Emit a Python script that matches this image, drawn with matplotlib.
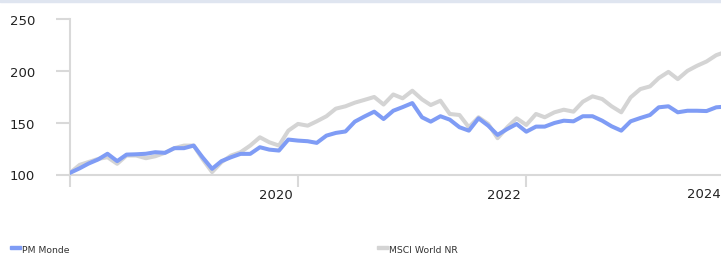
import numpy as np
import pandas as pd
import matplotlib
matplotlib.use("Agg")
import matplotlib.pyplot as plt
import matplotlib.dates as mdates
from matplotlib.transforms import ScaledTranslation
from matplotlib.patches import Rectangle

# Données (base 100, mensuel à partir de janvier 2018)
mois = pd.date_range("2018-01-01", periods=70, freq="MS")

pm_monde = [101.6, 106, 110.5, 114.5, 120, 112.9, 119.2, 119.5, 120, 121.5,
            120.9, 125.4, 125.4, 127.9, 116.7, 105.5, 112.9, 116.7, 119.9, 119.9,
            126.3, 124, 123.1, 133.7, 132.7, 132.1, 130.5, 137.5, 140.1, 141.5,
            151, 156, 160.6, 153.5, 161.5, 165, 168.9, 155.2, 151, 156.2,
            152.9, 145.6, 142.3, 154.2, 147.1, 138.2, 143.9, 148.7, 141.3, 146.2,
            146.2, 149.7, 151.9, 151.3, 156.2, 156.2, 151.9, 146.5, 142.3, 151.3,
            154.5, 157.4, 164.8, 165.8, 160, 161.5, 161.5, 161.2, 164.8, 165.5]

msci_world = [101.6, 109.3, 112, 115, 116.7, 110.3, 118.3, 118.3, 115.7, 117.6,
              120.9, 125.4, 127.9, 127.9, 115, 102.3, 111.9, 118.3, 121.5, 127.9,
              135.9, 131.1, 127.9, 142.3, 148.8, 147.1, 151.3, 156.2, 163.5, 165.8,
              169.3, 172, 174.8, 167.5, 177.2, 173.5, 180.8, 172.5, 167, 171.2,
              158.4, 157.4, 145.6, 155.2, 148.8, 135, 145.6, 154.2, 147.8, 158.4,
              155.2, 160, 162.5, 160.6, 170.2, 175.4, 172.8, 165.8, 160, 174.4,
              182.4, 185, 193, 199, 192, 200, 204.8, 209, 215.1, 218.3]

annees = ["2018", "2020", "2022", "2024"]

bleu = "#7f9cf5"
gris = "#d4d4d4"
axe = "#d9d9d9"

W, H = 721, 255
fig = plt.figure(figsize=(W / 100, H / 100), dpi=100)

# bande en haut
fig.patches.append(Rectangle((0, 1 - 3 / H), 1, 3 / H, transform=fig.transFigure,
                             color="#dfe5f0", zorder=0))

x0, x1 = pd.Timestamp("2018-01-01"), pd.Timestamp("2024-04-01")
px_per_day = 228 / (pd.Timestamp("2020-01-01") - x0).days
right_px = 70 + (x1 - x0).days * px_per_day
ax = fig.add_axes([70 / W, 1 - 175.5 / H, (right_px - 70) / W, (175.5 - 20) / H])

ax.plot(mois, msci_world, color=gris, lw=2.9, solid_joinstyle="round", zorder=2)
ax.plot(mois, pm_monde, color=bleu, lw=2.9, solid_joinstyle="round", zorder=3)

ax.set_xlim(x0, x1)
ax.set_ylim(100, 250)
ax.set_yticks([100, 150, 200, 250])

ticks = [pd.Timestamp(a + "-01-01") for a in annees]
ax.set_xticks(ticks)
ax.set_xticklabels(["", "2020", "2022", ""], ha="right")

for s in ["top", "right"]:
    ax.spines[s].set_visible(False)
for s in ["left", "bottom"]:
    ax.spines[s].set_color(axe)
    ax.spines[s].set_linewidth(1.5)

ax.tick_params(axis="y", length=10, width=1.5, color=axe, pad=15,
               labelsize=9.5, labelcolor="#222222")
ax.tick_params(axis="x", length=8.6, width=1.5, color=axe, pad=1,
               labelsize=9.5, labelcolor="#222222")

offset = ScaledTranslation(-0.05, 0, fig.dpi_scale_trans)
for lbl in ax.get_xticklabels():
    lbl.set_transform(lbl.get_transform() + offset)

# 2024 décalé pour rester dans l'image
fig.text(1.0, 1 - 195 / H, "2024", ha="right", va="center", fontsize=9.5, color="#222222")

# légende en bas
fig.patches.append(Rectangle((10 / W, 1 - 250 / H), 11 / W, 3.5 / H,
                             transform=fig.transFigure, color=bleu))
fig.text(22 / W, 1 - 251 / H, "PM Monde", ha="left", va="center", fontsize=6.7, color="#333333")
fig.patches.append(Rectangle((377 / W, 1 - 250 / H), 11 / W, 3.5 / H,
                             transform=fig.transFigure, color=gris))
fig.text(389 / W, 1 - 251 / H, "MSCI World NR", ha="left", va="center", fontsize=6.7, color="#333333")

fig.savefig("out.png", dpi=100)
